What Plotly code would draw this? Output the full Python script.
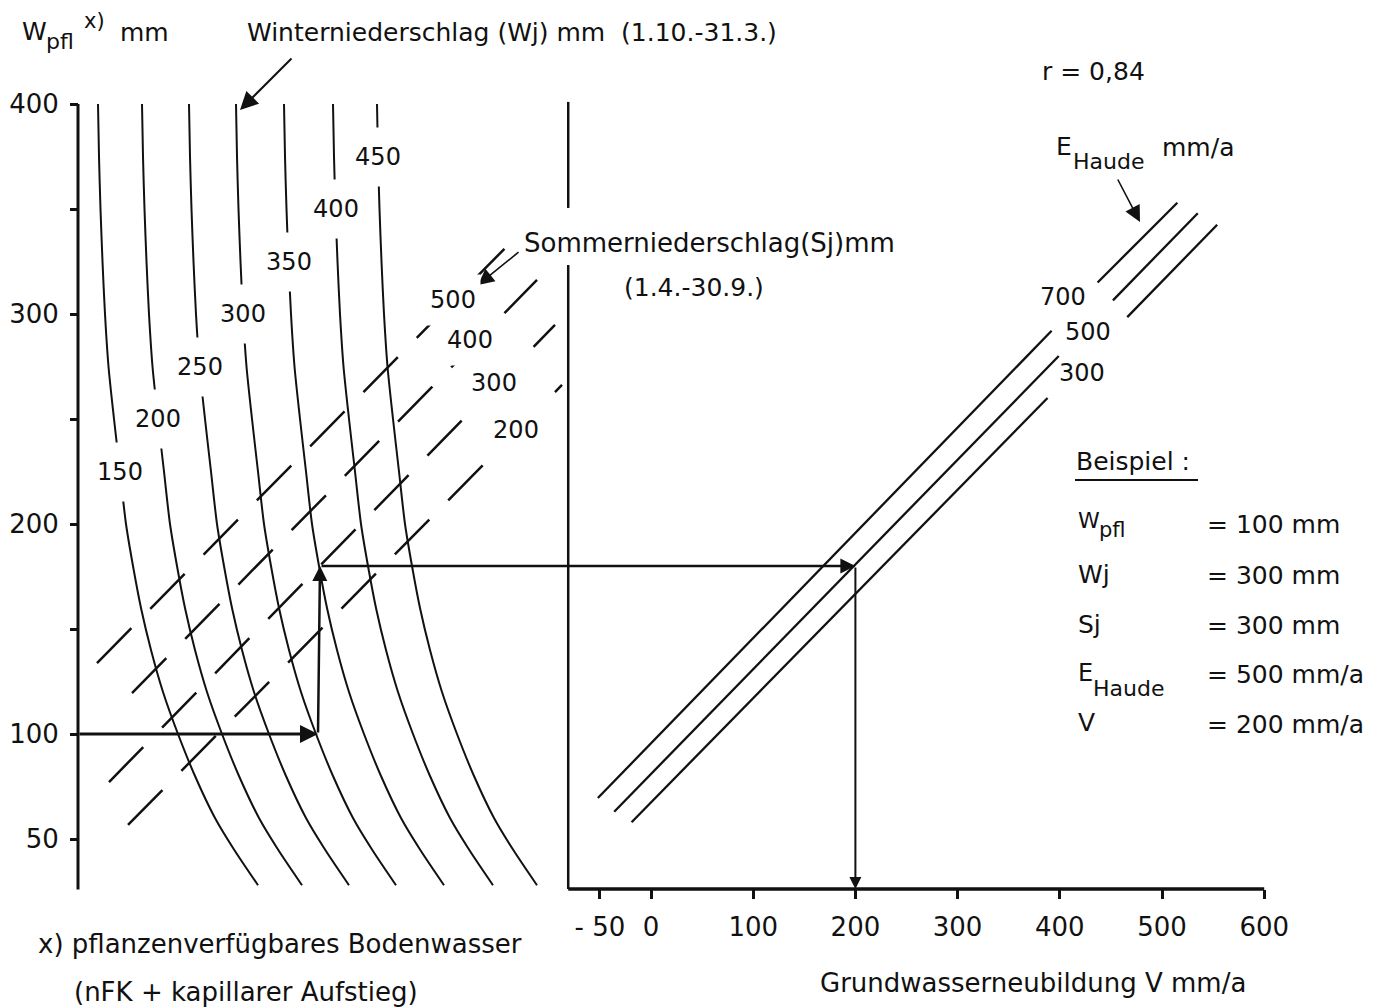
import plotly.graph_objects as go

W, H = 1373, 1008

# ---------------- data ----------------
# Wpfl levels (mm) at which the winter-precipitation curves were read
wpfl_levels = [400, 375, 350, 325, 300, 275, 250, 225, 200, 180, 160, 140, 120, 100, 80, 60, 45, 28]
wj_values = [150, 200, 250, 300, 350, 400, 450]
# horizontal position of each Wj curve in the left (unitless) panel at those levels
wj150_x = [20, 21, 22.5, 24.5, 27, 30.5, 36, 42, 48, 55, 63, 73, 85, 100, 117, 137, 156, 180]
wj200_x = [64, 65, 66.5, 68.5, 71, 74.5, 80, 86, 92, 99, 107, 117, 129, 144, 161, 181, 200, 224]
wj250_x = [111, 112, 113.5, 115.5, 118, 121.5, 127, 133, 139, 146, 154, 164, 176, 191, 208, 228, 247, 271]
wj300_x = [158, 159, 160.5, 162.5, 165, 168.5, 174, 180, 186, 193, 201, 211, 223, 238, 255, 275, 294, 318]
wj350_x = [206, 207, 208.5, 210.5, 213, 216.5, 222, 228, 234, 241, 249, 259, 271, 286, 303, 323, 342, 366]
wj400_x = [255, 256, 257.5, 259.5, 262, 265.5, 271, 277, 283, 290, 298, 308, 320, 335, 352, 372, 391, 415]
wj450_x = [299, 300, 301.5, 303.5, 306, 309.5, 315, 321, 327, 334, 342, 352, 364, 379, 396, 416, 435, 459]
wj_label_levels = [225, 250, 275, 300, 325, 350, 375]

# summer precipitation (dashed straight lines): end points (left-panel x, Wpfl mm)
sj_values = [200, 300, 400, 500]
sj200_x = [50, 484]
sj200_w = [56.7, 266.2]
sj300_x = [31, 477]
sj300_w = [77.1, 294.8]
sj400_x = [54, 459]
sj400_w = [119.5, 316.2]
sj500_x = [19, 435]
sj500_w = [133.8, 335.2]

# Haude evaporation lines in the right panel (V mm/a, Wpfl mm), gap for the label
e_values = [300, 500, 700]
e300_v = [-19, 388, None, 466, 554]
e300_w = [58, 260, None, 298.5, 342.5]
e500_v = [-36, 399, None, 452, 535]
e500_w = [63, 280, None, 306.5, 348]
e700_v = [-52, 392, None, 437, 515]
e700_w = [69.5, 292, None, 315, 353]

# axes
wpfl_ticks = [50, 100, 200, 300, 400]
wpfl_ticktext = ["50", "100", "200", "300", "400"]
wpfl_minor_ticks = [150, 250, 350]
v_ticks = [-50, 0, 100, 200, 300, 400, 500, 600]
v_ticktext = ["- 50", "0", "100", "200", "300", "400", "500", "600"]
wpfl_axis = [26, 400]
v_axis = [-81, 600]
divider_w = [26.2, 323.3, None, 350.5, 401]

# worked example: Wpfl=100, Wj=300, Sj=300, E=500 -> V=200
ex_wpfl, ex_wj, ex_sj, ex_e, ex_v = 100, 300, 300, 500, 200
ex_left_x = [0, 240, 242]
ex_left_w = [100, 100, 180]

# ---------------- page geometry ----------------
LX0 = 78.0                      # px of left axis
VX0, VSC = 651.0, 1.022         # px of V=0, px per mm/a
YP0, YSC = 104.0, 2.1           # px of Wpfl=400, px per mm

left_range = [-LX0, W - LX0]
v_range = [(0 - VX0) / VSC, (W - VX0) / VSC]
y_range = [400 - (H - YP0) / YSC, 400 + YP0 / YSC]


def v_of_left(x):
    return (LX0 + x - VX0) / VSC


def pp(xp, yp):
    return xp / W, 1 - yp / H


FONT = "DejaVu Sans"
INK = "#111111"

fig = go.Figure()


def line_trace(xs, ys, xaxis="x", width=2, dash=None, **kw):
    fig.add_trace(go.Scatter(x=xs, y=ys, mode="lines", xaxis=xaxis, yaxis="y",
                             line=dict(color=INK, width=width, dash=dash),
                             connectgaps=False, hoverinfo="skip", **kw))


# left axis line
line_trace([0, 0], wpfl_axis, width=3)
# winter precipitation curves
for val, xs in zip(wj_values, [wj150_x, wj200_x, wj250_x, wj300_x, wj350_x, wj400_x, wj450_x]):
    fig.add_trace(go.Scatter(x=xs, y=wpfl_levels, mode="lines", xaxis="x", yaxis="y",
                             line=dict(color=INK, width=2, shape="spline", smoothing=0.8),
                             name=f"Wj {val}", hoverinfo="skip"))
# summer precipitation dashed lines
for val, xs, ws in zip(sj_values, [sj200_x, sj300_x, sj400_x, sj500_x],
                       [sj200_w, sj300_w, sj400_w, sj500_w]):
    line_trace(xs, ws, width=2.5, dash="49px,27px", name=f"Sj {val}")

# right panel: divider, V axis line, E lines
line_trace([v_axis[0]] * len(divider_w), divider_w, xaxis="x2", width=2.5)
line_trace(v_axis, [26.2, 26.2], xaxis="x2", width=3.5)
for val, vs, ws in zip(e_values, [e300_v, e500_v, e700_v], [e300_w, e500_w, e700_w]):
    line_trace(vs, ws, xaxis="x2", width=2.3, name=f"E {val}")

ann = []


def txt(text, xp, yp, size=25, anchor="left"):
    x, y = pp(xp, yp)
    ann.append(dict(text=text, x=x, y=y, xref="paper", yref="paper", showarrow=False,
                    xanchor=anchor, yanchor="middle", font=dict(family=FONT, size=size, color=INK)))


def arrow_paper(head, tail, width=2, size=1.8):
    x, y = pp(*head)
    ann.append(dict(text="", x=x, y=y, xref="paper", yref="paper", showarrow=True,
                    ax=tail[0] - head[0], ay=tail[1] - head[1], axref="pixel", ayref="pixel",
                    arrowhead=2, arrowsize=size, arrowwidth=width, arrowcolor=INK))


def arrow_data(xref, head, tail, width=2.5, size=1.2):
    ann.append(dict(text="", x=head[0], y=head[1], xref=xref, yref="y",
                    ax=tail[0], ay=tail[1], axref=xref, ayref="y", showarrow=True,
                    arrowhead=2, arrowsize=size, arrowwidth=width, arrowcolor=INK))


# worked example arrows
arrow_data("x", (ex_left_x[1], ex_left_w[1]), (ex_left_x[0], ex_left_w[0]), width=3)
arrow_data("x", (ex_left_x[2], ex_left_w[2]), (ex_left_x[1], ex_left_w[1]), width=2.5)
arrow_data("x2", (ex_v, 180), (v_of_left(ex_left_x[-1]), 180), width=2.5)
arrow_data("x2", (ex_v, 26.2), (ex_v, 180), width=2)

# pointer arrows from the captions
arrow_paper((240, 110), (293, 57), width=2, size=1.8)
arrow_paper((478, 285), (520, 251), width=1.6, size=2)
arrow_paper((1140, 222), (1117, 178), width=1.6, size=2)

# Wj curve labels (white box makes the gap in the curve)
all_wj = [wj150_x, wj200_x, wj250_x, wj300_x, wj350_x, wj400_x, wj450_x]
for val, xs, lv in zip(wj_values, all_wj, wj_label_levels):
    i = wpfl_levels.index(lv)
    ann.append(dict(text=str(val), x=xs[i], y=lv, xref="x", yref="y", showarrow=False,
                    bgcolor="white", width=48, height=58, borderpad=0,
                    font=dict(family=FONT, size=24, color=INK)))
# Sj labels
sj_label_pos = [(438, 244.8), (416, 267.1), (392, 287.6), (375, 306.7)]
for val, (lx, lw) in zip(sj_values, sj_label_pos):
    ann.append(dict(text=str(val), x=lx, y=lw, xref="x", yref="y", showarrow=False,
                    bgcolor="white", width=54, height=50, borderpad=0,
                    font=dict(family=FONT, size=24, color=INK)))
# E labels
e_label_pos = [(421.7, 271.9), (427.6, 291.4), (403, 308)]
for val, (lv, lw) in zip(e_values, e_label_pos):
    ann.append(dict(text=str(val), x=lv, y=lw, xref="x2", yref="y", showarrow=False,
                    font=dict(family=FONT, size=24, color=INK)))

# heading of the Wpfl axis (pieces placed individually: W, subscript, superscript, unit)
txt("W", 20, 31, 25)
txt("pfl", 44, 42, 22)
txt("x)", 82, 21, 21)
txt("mm", 118, 32, 25)
txt("Winterniederschlag (Wj) mm  (1.10.-31.3.)", 245, 32)
txt("r = 0,84", 1040, 72)
txt("E", 1054, 146, 25)
txt("Haude", 1071, 161, 22)
txt("mm/a", 1160, 147, 25)
txt("Sommerniederschlag(Sj)mm", 522, 243, 26)
txt("(1.4.-30.9.)", 622, 287)
txt("Beispiel :", 1074, 462)
txt("W", 1076, 520, 22)
txt("pfl", 1097, 530, 21)
txt("= 100 mm", 1205, 524)
txt("Wj", 1076, 574)
txt("= 300 mm", 1205, 575)
txt("Sj", 1076, 624)
txt("= 300 mm", 1205, 625)
txt("E", 1076, 673, 24)
txt("Haude", 1091, 688, 22)
txt("= 500 mm/a", 1205, 674)
txt("V", 1076, 722)
txt("= 200 mm/a", 1205, 724)
txt("x) pflanzenverfügbares Bodenwasser", 36, 944, 26)
txt("(nFK + kapillarer Aufstieg)", 72, 992, 26)
txt("Grundwasserneubildung V mm/a", 818, 983, 26)

shapes = [dict(type="line", xref="paper", yref="paper",
               x0=1075 / W, x1=1198 / W, y0=1 - 480 / H, y1=1 - 480 / H,
               line=dict(color=INK, width=2))]

fig.update_layout(
    width=W, height=H, margin=dict(l=0, r=0, t=0, b=0),
    paper_bgcolor="white", plot_bgcolor="white", showlegend=False,
    annotations=ann, shapes=shapes,
    xaxis=dict(domain=[0, 1], range=left_range, visible=False, fixedrange=True),
    xaxis2=dict(domain=[0, 1], range=v_range, overlaying="x", anchor="free",
                position=1 - 889 / H, side="bottom", showgrid=False, zeroline=False,
                showline=False, tickmode="array", tickvals=v_ticks, ticktext=v_ticktext,
                ticks="outside", ticklen=9, tickwidth=2.5, tickcolor=INK,
                ticklabelstandoff=6,
                tickfont=dict(family=FONT, size=26, color=INK)),
    yaxis=dict(domain=[0, 1], range=y_range, anchor="free", position=LX0 / W,
               showgrid=False, zeroline=False, showline=False, tickmode="array",
               tickvals=wpfl_ticks, ticktext=wpfl_ticktext, ticks="outside",
               ticklen=8, tickwidth=2.5, tickcolor=INK, ticklabelstandoff=6,
               tickfont=dict(family=FONT, size=26, color=INK),
               minor=dict(tickmode="array", tickvals=wpfl_minor_ticks, ticks="outside",
                          ticklen=8, tickwidth=2.5, tickcolor=INK, showgrid=False)),
)

fig.write_html("out.html")
